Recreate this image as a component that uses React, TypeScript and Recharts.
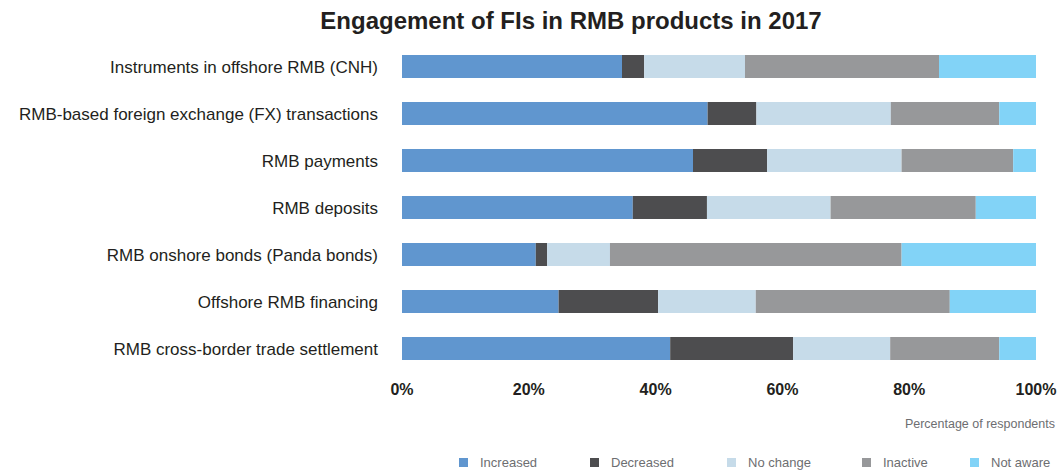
import { Bar, BarChart, Label, Legend, XAxis, YAxis } from "recharts";

const categories = [
  "Instruments in offshore RMB (CNH)",
  "RMB-based foreign exchange (FX) transactions",
  "RMB payments",
  "RMB deposits",
  "RMB onshore bonds (Panda bonds)",
  "Offshore RMB financing",
  "RMB cross-border trade settlement",
];

const increased = [34.7, 48.2, 45.9, 36.4, 21.1, 24.7, 42.3];
const decreased = [3.5, 7.7, 11.7, 11.7, 1.8, 15.7, 19.4];
const noChange = [15.9, 21.2, 21.2, 19.5, 9.9, 15.4, 15.3];
const inactive = [30.6, 17.1, 17.6, 22.9, 46.0, 30.6, 17.2];
const notAware = [15.3, 5.8, 3.6, 9.5, 21.2, 13.6, 5.8];

const xTicks = [0, 20, 40, 60, 80, 100];

const series = [
  { key: "increased", name: "Increased", color: "#6096cf", width: 131 },
  { key: "decreased", name: "Decreased", color: "#4d4d4f", width: 137 },
  { key: "noChange", name: "No change", color: "#c6dbe9", width: 135 },
  { key: "inactive", name: "Inactive", color: "#97989a", width: 108 },
  { key: "notAware", name: "Not aware", color: "#82d3f7", width: 87 },
];

const data = categories.map((name, i) => ({
  name,
  increased: increased[i],
  decreased: decreased[i],
  noChange: noChange[i],
  inactive: inactive[i],
  notAware: notAware[i],
}));

const font = "'Liberation Sans', Arial, Helvetica, sans-serif";

function LegendRow() {
  return (
    <div style={{ display: "flex", fontFamily: font, fontSize: 13, color: "#6d6e71" }}>
      {series.map((s) => (
        <div key={s.key} style={{ width: s.width, display: "flex", alignItems: "center", flexShrink: 0 }}>
          <span style={{ width: 9, height: 9, background: s.color, marginRight: 12, display: "inline-block" }} />
          <span>{s.name}</span>
        </div>
      ))}
    </div>
  );
}

export default function App() {
  return (
    <div style={{ position: "absolute", left: 0, top: 0, width: 1057, height: 473, background: "#fff" }}>
      <div
        style={{
          position: "absolute",
          left: 0,
          top: 7,
          width: 1142,
          textAlign: "center",
          fontFamily: font,
          fontWeight: "bold",
          fontSize: 24,
          color: "#231f20",
        }}
      >
        Engagement of FIs in RMB products in 2017
      </div>
      <BarChart
        width={1057}
        height={473}
        data={data}
        layout="vertical"
        margin={{ top: 43, right: 21, bottom: 0, left: 0 }}
        barSize={23}
      >
        <XAxis
          type="number"
          domain={[0, 100]}
          ticks={xTicks}
          tickFormatter={(v) => `${v}%`}
          axisLine={false}
          tickLine={false}
          tickSize={0}
          tickMargin={12}
          height={86}
          tick={{ fill: "#231f20", fontSize: 16, fontWeight: "bold", fontFamily: font }}
          interval={0}
        >
          <Label
            content={({ viewBox }: any) => (
              <text
                x={viewBox.x + viewBox.width + 19}
                y={viewBox.y + 56}
                textAnchor="end"
                fill="#6d6e71"
                fontSize={12.5}
                fontFamily={font}
              >
                Percentage of respondents
              </text>
            )}
          />
        </XAxis>
        <YAxis
          type="category"
          dataKey="name"
          width={402}
          axisLine={false}
          tickLine={false}
          tickSize={0}
          tickMargin={24}
          interval={0}
          tick={{ fill: "#231f20", fontSize: 17, fontFamily: font }}
        />
        <Legend
          verticalAlign="bottom"
          content={() => <LegendRow />}
          wrapperStyle={{ left: 459, top: 455, width: 598, bottom: "auto" }}
        />
        {series.map((s) => (
          <Bar
            key={s.key}
            dataKey={s.key}
            name={s.name}
            stackId="a"
            fill={s.color}
            isAnimationActive={false}
          />
        ))}
      </BarChart>
    </div>
  );
}
